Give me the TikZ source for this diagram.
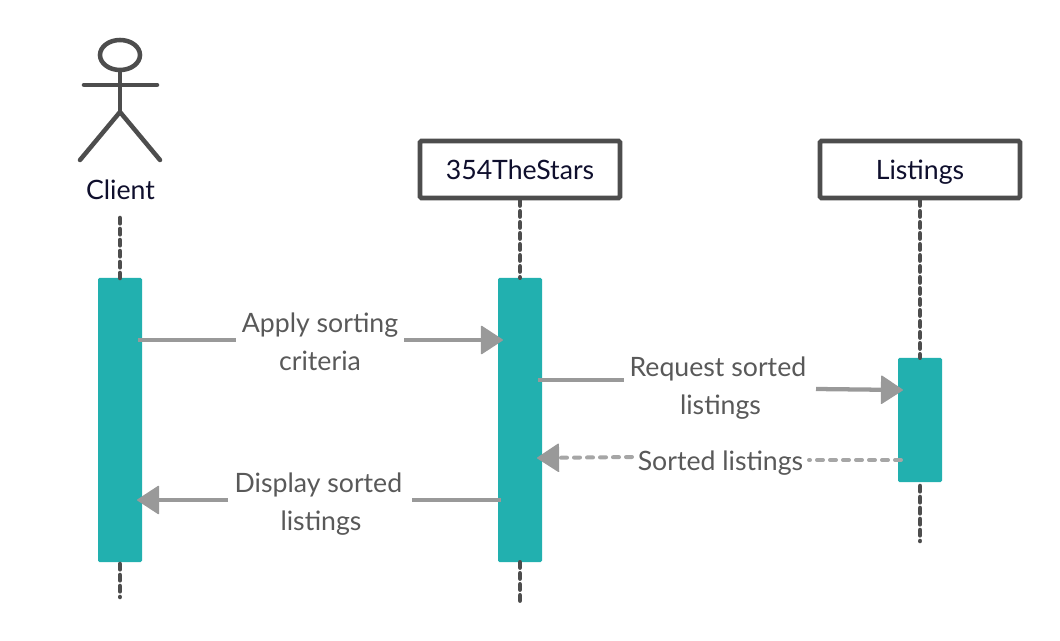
\documentclass[tikz,border=0pt]{standalone}
\usepackage{fontspec}
\setmainfont{Lato}
\usetikzlibrary{arrows.meta,shapes.geometric}
\definecolor{ink}{HTML}{4D4D4D}
\definecolor{teal1}{HTML}{22B0AF}
\definecolor{conn}{HTML}{999999}
\definecolor{connd}{HTML}{A6A6A6}
\definecolor{namec}{HTML}{0F0F2D}
\definecolor{labelc}{HTML}{595959}
\tikzset{
  x=0.75pt,y=-0.75pt,
  namelabel/.style={text=namec,font=\fontsize{20}{24}\selectfont,inner sep=0pt,text height=14.4pt,text depth=0pt},
  msglabel/.style={text=labelc,font=\fontsize{20}{28.5}\selectfont,align=center,inner sep=0pt},
  headbox/.style={draw=ink,line width=3.4pt,fill=white,rounded corners=1pt,minimum width=200*0.75pt,minimum height=57*0.75pt,inner sep=0pt},
  activation/.style={fill=teal1,rounded corners=1pt,minimum width=44*0.75pt,inner sep=0pt},
  lifeline/.style={draw=ink,line width=3.4pt,line cap=round,dash pattern=on 4pt off 4.25pt},
  actorline/.style={draw=ink,line width=3.4pt,line cap=round,line join=round},
  msgline/.style={draw=conn,line width=3.2pt},
  replyline/.style={draw=connd,line width=3pt,line cap=round,dash pattern=on 4.5pt off 5.25pt},
  headtip/.style={-{Triangle[length=17pt,width=22pt,round,fill=conn,color=conn,line width=1pt]}},
}
\begin{document}
\begin{tikzpicture}
\useasboundingbox (0,0) rectangle (1060,641);
% lifelines
\coordinate (c1) at (120,218); \coordinate (c2) at (120,278);
\coordinate (c3) at (120,564); \coordinate (c4) at (120,597);
\coordinate (s4) at (520,601); \coordinate (l4) at (920,541);
\coordinate (l3) at (920,486);
\node[headbox,namelabel] (stars) at (520,169.5) {354TheStars};
\node[headbox,namelabel] (list) at (920,169.5) {Listings};
\node[activation,minimum height=284*0.75pt] (aC) at (120,420) {};
\node[activation,minimum height=284*0.75pt] (aS) at (520,420) {};
\node[activation,minimum height=124*0.75pt] (aL) at (920,420) {};
\draw[lifeline] (c1) -- (c2);
\draw[lifeline] (c3) -- (c4);
\draw[lifeline] (stars.south) -- (aS.north);
\draw[lifeline] (aS.south) -- (s4);
\draw[lifeline] (list.south) -- (aL.north);
\draw[lifeline] (l3) -- (l4);
% actor
\coordinate (hip) at (120,112);
\coordinate (armL) at (84,85); \coordinate (armR) at (157,85);
\coordinate (legL) at (80,160); \coordinate (legR) at (160,160);
\node[draw=ink,line width=3.4pt,ellipse,minimum width=40*0.75pt,minimum height=30*0.75pt,inner sep=0pt] (head) at (120,55) {};
\draw[actorline] (head.south) -- (hip);
\draw[actorline] (armL) -- (armR);
\draw[actorline] (legL) -- (hip) -- (legR);
\node[namelabel] (client) at (120.5,190) {Client};
% messages
\node[msglabel] (m1) at (320,341.5) {Apply sorting\\criteria};
\node[msglabel] (m2) at (720.5,388.5) {Request sorted\kern3.9pt\\listings};
\node[msglabel] (m3) at (720.5,463) {Sorted listings};
\node[msglabel] (m4) at (321,504) {Display sorted\kern3.9pt\\listings};
\coordinate (a1) at (138,340); \coordinate (a2) at (236,340);
\coordinate (a3) at (404,340); \coordinate (a4) at (503,340);
\draw[msgline] (a1) -- (a2);
\draw[msgline,headtip] (a3) -- (a4);
\coordinate (b1) at (538,380); \coordinate (b2) at (624,380);
\coordinate (b3) at (816,389); \coordinate (b4) at (903,390);
\draw[msgline] (b1) -- (b2);
\draw[msgline,headtip] (b3) -- (b4);
\coordinate (d1) at (901,460); \coordinate (d2) at (809,460);
\coordinate (d3) at (632,457); \coordinate (d4) at (537,458);
\draw[replyline] (d1) -- (d2);
\draw[replyline,headtip] (d3) -- (d4);
\coordinate (e1) at (501,500); \coordinate (e2) at (412,500);
\coordinate (e3) at (228,500); \coordinate (e4) at (137,500);
\draw[msgline] (e1) -- (e2);
\draw[msgline,headtip] (e3) -- (e4);
\end{tikzpicture}
\end{document}
